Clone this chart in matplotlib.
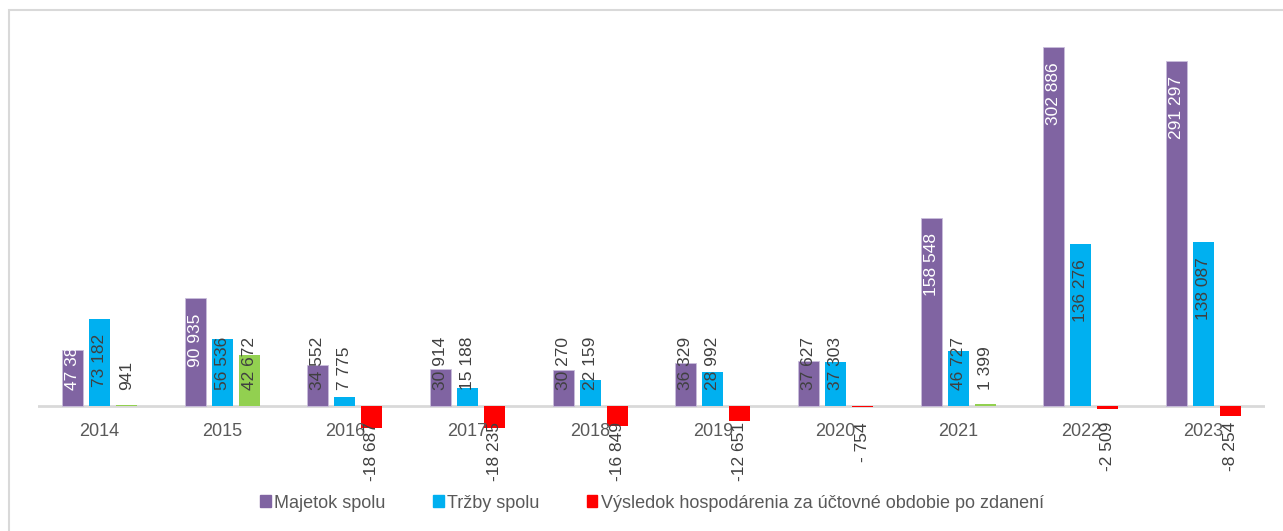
import matplotlib
matplotlib.use("Agg")
import matplotlib.pyplot as plt
from matplotlib.patches import Patch, Rectangle

years = ["2014", "2015", "2016", "2017", "2018", "2019", "2020", "2021", "2022", "2023"]
majetok = [47381, 90935, 34552, 30914, 30270, 36329, 37627, 158548, 302886, 291297]
trzby = [73182, 56536, 7775, 15188, 22159, 28992, 37303, 46727, 136276, 138087]
vysledok = [941, 42672, -18687, -18235, -16849, -12651, -754, 1399, -2509, -8254]
# purple labels drawn in white
white_years = ["2014", "2015", "2021", "2022", "2023"]

legend_labels = ["Majetok spolu", "Tržby spolu",
                 "Výsledok hospodárenia za účtovné obdobie po zdanení"]

PURPLE = "#8064A2"
BLUE = "#00B0F0"
GREEN = "#92D050"
RED = "#FF0000"
DARK = "#404040"
FS = 12.5

plt.rcParams['font.family'] = ['Liberation Sans', 'DejaVu Sans']
plt.rcParams['font.size'] = FS


def fmt(v):
    s = f"{abs(v):,}".replace(",", " ")
    if v < 0:
        return ("- " if abs(v) < 1000 else "-") + s
    return s


fig = plt.figure(figsize=(12.83, 5.31), dpi=100)
W, H = 1283, 531
ax = fig.add_axes([38 / W, (H - 440) / H, 1227 / W, 420 / H])

upp = 302886 / 359.0  # data units per pixel
ax.set_ylim(-(440 - 406) * upp, (406 - 20) * upp)
ax.set_xlim(-0.5, len(years) - 0.5)
ax.axis("off")

bw = 21 / 122.7
step = 27 / 122.7
x = list(range(len(years)))

ax.bar([i - step for i in x], majetok, bw, color=PURPLE, edgecolor="#c9bedb", linewidth=0.6, zorder=2)
ax.bar(x, trzby, bw, color=BLUE, zorder=2)
ax.bar([i + step for i in x], vysledok, bw,
       color=[GREEN if v > 0 else RED for v in vysledok], zorder=2)

ax.axhline(0, color="#d9d9d9", lw=2, zorder=1)

for i, y in enumerate(years):
    ax.annotate(y, (i, 0), xytext=(0, -26), textcoords="offset pixels",
                ha="center", va="center", color="#595959", fontsize=FS + 0.5)

# data labels
pending = []
for i in x:
    for off, v, col in [(-step, majetok[i], "white" if years[i] in white_years else DARK),
                        (0, trzby[i], DARK),
                        (step, vysledok[i], DARK)]:
        xi = i + off
        if v < 0:
            ax.annotate(fmt(v), (xi, 0), xytext=(0, -16), textcoords="offset pixels",
                        rotation=90, ha="center", va="top", color=DARK, fontsize=FS, zorder=3)
        else:
            t = ax.annotate(fmt(v), (xi, v), xytext=(0, -15), textcoords="offset pixels",
                            rotation=90, ha="center", va="top", color=col, fontsize=FS, zorder=3)
            pending.append((t, xi, v))

fig.canvas.draw()
r = fig.canvas.get_renderer()
for t, xi, v in pending:
    h = t.get_window_extent(r).height
    if 15 + h > v / upp - 15:
        t.xy = (xi, 0)
        t.set_position((0, 16))
        t.set_va("bottom")

handles = [Patch(color=PURPLE), Patch(color=BLUE), Patch(color=RED)]
fig.legend(handles, legend_labels, loc="center", bbox_to_anchor=(652 / W, 28 / H),
           ncol=3, frameon=False, fontsize=FS + 0.5, handlelength=0.6, handleheight=0.6,
           handletextpad=0.2, columnspacing=2.6, labelcolor="#595959")

fig.patches.append(Rectangle((9 / W, -0.1), 1.2, (H - 10) / H + 0.1, transform=fig.transFigure,
                             fill=False, edgecolor="#d9d9d9", lw=1.5))

fig.savefig("out.png", dpi=100)
